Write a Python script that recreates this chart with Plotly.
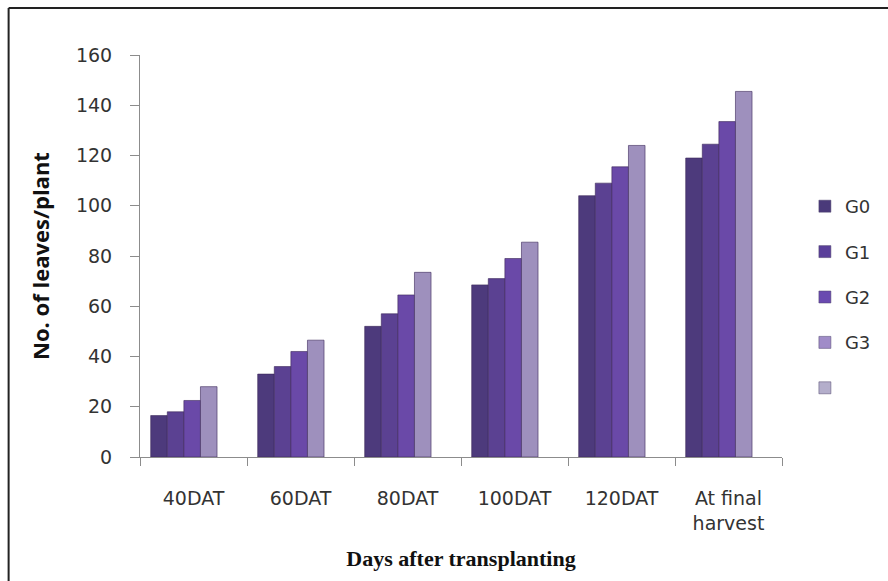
import plotly.graph_objects as go

categories = ["40DAT", "60DAT", "80DAT", "100DAT", "120DAT", "At final<br>harvest"]
series_names = ["G0", "G1", "G2", "G3"]
g0 = [16.5, 33, 52, 68.5, 104, 119]
g1 = [18, 36, 57, 71, 109, 124.5]
g2 = [22.5, 42, 64.5, 79, 115.5, 133.5]
g3 = [28, 46.5, 73.5, 85.5, 124, 145.5]
values = [g0, g1, g2, g3]
y_ticks = [0, 20, 40, 60, 80, 100, 120, 140, 160]

bar_colors = ["#4d3a7c", "#5b4192", "#6a49a8", "#9e90bd"]
legend_colors = ["#4a3a7a", "#5a3f9a", "#6a4ab0", "#a08cc8"]
offsets = [-0.40, -0.245, -0.09, 0.065]

fig = go.Figure()
for i, (name, vals) in enumerate(zip(series_names, values)):
    fig.add_trace(go.Bar(
        x=categories, y=vals, name=name,
        marker=dict(color=bar_colors[i], line=dict(color="rgba(60,40,90,0.6)", width=1)),
        width=0.155, offset=offsets[i],
        legendgroup=name, showlegend=False,
    ))
# legend-only entries (5 squares, last one unlabeled as in the reference)
for i, name in enumerate(series_names + [" "]):
    col = legend_colors[i] if i < 4 else "#b4aecb"
    fig.add_trace(go.Bar(
        x=[categories[0]], y=[None], name=name,
        marker=dict(color=col, line=dict(color="rgba(80,70,110,0.5)", width=1)),
        legendgroup="lg%d" % i, showlegend=True,
    ))

W, H = 888, 581
L, R, T, B = 140, 103, 55, 124
pw, ph = W - L - R, H - T - B
tick_font = "DejaVu Sans, Open Sans, sans-serif"

fig.update_layout(
    width=W, height=H,
    margin=dict(l=L, r=R, t=T, b=B),
    paper_bgcolor="white", plot_bgcolor="white",
    barmode="overlay",
    font=dict(family=tick_font, color="#333333", size=16),
    legend=dict(
        x=(808 - L) / pw, y=1 - (188 - T) / ph, xanchor="left", yanchor="top",
        font=dict(family=tick_font, size=18, color="#333333"),
        tracegroupgap=19, itemwidth=30,
        bgcolor="rgba(0,0,0,0)",
    ),
    showlegend=True,
)
fig.update_xaxes(
    type="category", tickson="boundaries", ticks="outside", ticklen=8,
    tickcolor="#8c8c8c", showline=True, linecolor="#8c8c8c", linewidth=1,
    showgrid=False, tickfont=dict(family=tick_font, size=19, color="#333333"),
    ticklabelstandoff=24,
    title=dict(text="<b>Days after transplanting</b>",
               font=dict(family="Liberation Serif, Times New Roman, serif", size=22, color="#111111"),
               standoff=18),
)
fig.update_yaxes(
    range=[0, 160], tickvals=y_ticks, ticks="outside", ticklen=9,
    tickcolor="#8c8c8c", showline=True, linecolor="#8c8c8c", linewidth=1,
    showgrid=False, zeroline=False, tickfont=dict(family=tick_font, size=19, color="#333333"),
    ticklabelstandoff=14,
    title=dict(text="<b>No. of leaves/plant</b>",
               font=dict(family="Open Sans, DejaVu Sans, sans-serif", size=22, color="#111111"),
               standoff=20),
)
# outer chart frame (left and top edges visible in the reference)
x_left = (8 - L) / pw
y_top = 1 + (T - 8) / ph
fig.add_shape(type="line", xref="paper", yref="paper", x0=x_left, x1=x_left,
              y0=y_top, y1=-(B + 10) / ph, line=dict(color="#222222", width=2))
fig.add_shape(type="line", xref="paper", yref="paper", x0=x_left, x1=1 + (R + 10) / pw,
              y0=y_top, y1=y_top, line=dict(color="#222222", width=2))

fig.write_html("out.html", config={"displayModeBar": False},
               post_script="document.body.style.margin='0';document.body.style.overflow='hidden';")
